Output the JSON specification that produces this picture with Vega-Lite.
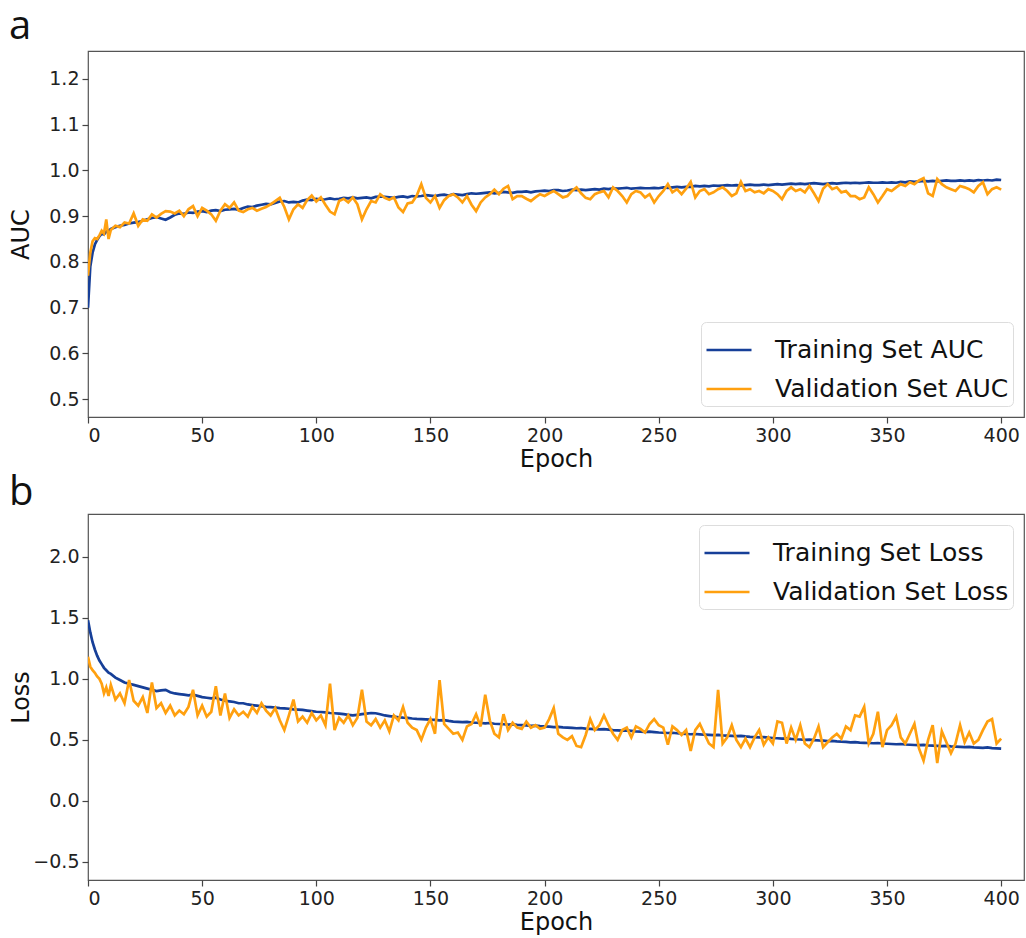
{
  "$schema": "https://vega.github.io/schema/vega-lite/v6.json",
  "padding": {"left": 8, "top": 6, "right": 0, "bottom": 0},
  "background": "white",
  "config": {
    "font": "DejaVu Sans",
    "view": {"stroke": "#555555", "strokeWidth": 1.2},
    "axis": {
      "domain": false, "grid": false, "tickColor": "#444444", "tickSize": 6, "tickWidth": 1.2,
      "labelFontSize": 19, "labelColor": "#222222", "labelPadding": 3,
      "titleFontSize": 24, "titleFontWeight": "normal", "titleColor": "#111111"
    },
    "legend": {
      "labelFontSize": 25, "labelColor": "#111111", "labelLimit": 500, "symbolType": "stroke", "symbolSize": 2025,
      "symbolStrokeWidth": 2.5, "strokeColor": "#dddddd", "fillColor": "white", "cornerRadius": 5,
      "padding": 4, "labelOffset": 22, "rowPadding": 2, "title": null, "offset": 11
    },
    "title": {"font": "Open Sans", "fontSize": 40, "fontWeight": "normal", "anchor": "start", "frame": "bounds", "color": "#111111"}
  },
  "datasets": {
    "d": [
      {"e":0,"ta":0.700,"va":0.770,"tl":1.48,"vl":1.18},
      {"e":1,"ta":0.790,"va":0.820,"tl":1.38,"vl":1.10},
      {"e":2,"ta":0.820,"va":0.845,"tl":1.30,"vl":1.07},
      {"e":3,"ta":0.838,"va":0.852,"tl":1.24,"vl":1.05},
      {"e":4,"ta":0.848,"va":0.850,"tl":1.19,"vl":1.02},
      {"e":5,"ta":0.856,"va":0.858,"tl":1.15,"vl":1.00},
      {"e":6,"ta":0.862,"va":0.868,"tl":1.12,"vl":0.96},
      {"e":7,"ta":0.860,"va":0.862,"tl":1.09,"vl":0.88},
      {"e":8,"ta":0.866,"va":0.893,"tl":1.07,"vl":0.93},
      {"e":9,"ta":0.868,"va":0.850,"tl":1.05,"vl":0.86},
      {"e":10,"ta":0.872,"va":0.870,"tl":1.04,"vl":0.95},
      {"e":12,"ta":0.876,"va":0.879,"tl":1.01,"vl":0.83},
      {"e":14,"ta":0.879,"va":0.876,"tl":0.99,"vl":0.88},
      {"e":16,"ta":0.881,"va":0.886,"tl":0.97,"vl":0.80},
      {"e":18,"ta":0.884,"va":0.884,"tl":0.96,"vl":0.99},
      {"e":20,"ta":0.886,"va":0.906,"tl":0.95,"vl":0.82},
      {"e":22,"ta":0.887,"va":0.879,"tl":0.94,"vl":0.78},
      {"e":24,"ta":0.890,"va":0.893,"tl":0.93,"vl":0.85},
      {"e":26,"ta":0.893,"va":0.890,"tl":0.92,"vl":0.72},
      {"e":28,"ta":0.896,"va":0.904,"tl":0.91,"vl":0.97},
      {"e":30,"ta":0.898,"va":0.897,"tl":0.90,"vl":0.76},
      {"e":32,"ta":0.895,"va":0.905,"tl":0.905,"vl":0.80},
      {"e":34,"ta":0.892,"va":0.911,"tl":0.91,"vl":0.72},
      {"e":36,"ta":0.897,"va":0.910,"tl":0.89,"vl":0.78},
      {"e":38,"ta":0.903,"va":0.906,"tl":0.88,"vl":0.70},
      {"e":40,"ta":0.906,"va":0.912,"tl":0.875,"vl":0.74},
      {"e":42,"ta":0.905,"va":0.900,"tl":0.87,"vl":0.71},
      {"e":44,"ta":0.908,"va":0.915,"tl":0.865,"vl":0.77},
      {"e":46,"ta":0.907,"va":0.922,"tl":0.87,"vl":0.91},
      {"e":48,"ta":0.910,"va":0.900,"tl":0.86,"vl":0.70},
      {"e":50,"ta":0.911,"va":0.918,"tl":0.85,"vl":0.78},
      {"e":52,"ta":0.909,"va":0.912,"tl":0.845,"vl":0.69},
      {"e":54,"ta":0.912,"va":0.904,"tl":0.84,"vl":0.73},
      {"e":56,"ta":0.913,"va":0.890,"tl":0.845,"vl":0.94},
      {"e":58,"ta":0.911,"va":0.912,"tl":0.83,"vl":0.70},
      {"e":60,"ta":0.914,"va":0.926,"tl":0.82,"vl":0.88},
      {"e":62,"ta":0.915,"va":0.918,"tl":0.815,"vl":0.68},
      {"e":64,"ta":0.916,"va":0.930,"tl":0.81,"vl":0.75},
      {"e":66,"ta":0.914,"va":0.912,"tl":0.80,"vl":0.70},
      {"e":68,"ta":0.918,"va":0.909,"tl":0.80,"vl":0.73},
      {"e":70,"ta":0.921,"va":0.915,"tl":0.79,"vl":0.69},
      {"e":72,"ta":0.920,"va":0.918,"tl":0.785,"vl":0.77},
      {"e":74,"ta":0.923,"va":0.912,"tl":0.78,"vl":0.72},
      {"e":76,"ta":0.925,"va":0.916,"tl":0.775,"vl":0.80},
      {"e":78,"ta":0.927,"va":0.920,"tl":0.77,"vl":0.74},
      {"e":80,"ta":0.926,"va":0.926,"tl":0.768,"vl":0.70},
      {"e":82,"ta":0.929,"va":0.933,"tl":0.765,"vl":0.76},
      {"e":84,"ta":0.932,"va":0.940,"tl":0.76,"vl":0.66},
      {"e":86,"ta":0.933,"va":0.920,"tl":0.758,"vl":0.58},
      {"e":88,"ta":0.930,"va":0.893,"tl":0.755,"vl":0.70},
      {"e":90,"ta":0.931,"va":0.915,"tl":0.75,"vl":0.83},
      {"e":92,"ta":0.930,"va":0.926,"tl":0.748,"vl":0.65},
      {"e":94,"ta":0.934,"va":0.918,"tl":0.745,"vl":0.69},
      {"e":96,"ta":0.936,"va":0.935,"tl":0.74,"vl":0.64},
      {"e":98,"ta":0.935,"va":0.945,"tl":0.735,"vl":0.72},
      {"e":100,"ta":0.938,"va":0.932,"tl":0.73,"vl":0.66},
      {"e":102,"ta":0.936,"va":0.941,"tl":0.728,"vl":0.70},
      {"e":104,"ta":0.937,"va":0.925,"tl":0.725,"vl":0.62},
      {"e":106,"ta":0.939,"va":0.910,"tl":0.72,"vl":0.96},
      {"e":108,"ta":0.937,"va":0.904,"tl":0.718,"vl":0.58},
      {"e":110,"ta":0.938,"va":0.933,"tl":0.715,"vl":0.68},
      {"e":112,"ta":0.940,"va":0.938,"tl":0.71,"vl":0.64},
      {"e":114,"ta":0.939,"va":0.930,"tl":0.705,"vl":0.70},
      {"e":116,"ta":0.941,"va":0.941,"tl":0.70,"vl":0.62},
      {"e":118,"ta":0.939,"va":0.926,"tl":0.705,"vl":0.68},
      {"e":120,"ta":0.940,"va":0.893,"tl":0.71,"vl":0.91},
      {"e":122,"ta":0.941,"va":0.915,"tl":0.715,"vl":0.65},
      {"e":124,"ta":0.939,"va":0.933,"tl":0.72,"vl":0.62},
      {"e":126,"ta":0.942,"va":0.930,"tl":0.718,"vl":0.67},
      {"e":128,"ta":0.943,"va":0.948,"tl":0.71,"vl":0.60},
      {"e":130,"ta":0.942,"va":0.940,"tl":0.70,"vl":0.66},
      {"e":132,"ta":0.941,"va":0.936,"tl":0.695,"vl":0.57},
      {"e":134,"ta":0.940,"va":0.941,"tl":0.69,"vl":0.70},
      {"e":136,"ta":0.942,"va":0.919,"tl":0.685,"vl":0.66},
      {"e":138,"ta":0.943,"va":0.909,"tl":0.682,"vl":0.77},
      {"e":140,"ta":0.941,"va":0.928,"tl":0.68,"vl":0.64},
      {"e":142,"ta":0.944,"va":0.930,"tl":0.675,"vl":0.60},
      {"e":144,"ta":0.943,"va":0.945,"tl":0.672,"vl":0.58},
      {"e":146,"ta":0.944,"va":0.970,"tl":0.67,"vl":0.50},
      {"e":148,"ta":0.946,"va":0.940,"tl":0.668,"vl":0.60},
      {"e":150,"ta":0.945,"va":0.930,"tl":0.665,"vl":0.67},
      {"e":152,"ta":0.944,"va":0.944,"tl":0.663,"vl":0.55},
      {"e":154,"ta":0.946,"va":0.918,"tl":0.66,"vl":0.99},
      {"e":156,"ta":0.947,"va":0.935,"tl":0.662,"vl":0.63},
      {"e":158,"ta":0.945,"va":0.944,"tl":0.655,"vl":0.59},
      {"e":160,"ta":0.948,"va":0.948,"tl":0.65,"vl":0.55},
      {"e":162,"ta":0.947,"va":0.941,"tl":0.648,"vl":0.56},
      {"e":164,"ta":0.946,"va":0.930,"tl":0.645,"vl":0.50},
      {"e":166,"ta":0.948,"va":0.944,"tl":0.647,"vl":0.61},
      {"e":168,"ta":0.950,"va":0.925,"tl":0.642,"vl":0.63},
      {"e":170,"ta":0.949,"va":0.911,"tl":0.64,"vl":0.71},
      {"e":172,"ta":0.950,"va":0.930,"tl":0.638,"vl":0.61},
      {"e":174,"ta":0.951,"va":0.941,"tl":0.635,"vl":0.87},
      {"e":176,"ta":0.952,"va":0.948,"tl":0.638,"vl":0.66},
      {"e":178,"ta":0.950,"va":0.958,"tl":0.632,"vl":0.55},
      {"e":180,"ta":0.951,"va":0.948,"tl":0.63,"vl":0.52},
      {"e":182,"ta":0.953,"va":0.960,"tl":0.628,"vl":0.71},
      {"e":184,"ta":0.952,"va":0.966,"tl":0.625,"vl":0.58},
      {"e":186,"ta":0.951,"va":0.937,"tl":0.627,"vl":0.64},
      {"e":188,"ta":0.953,"va":0.944,"tl":0.622,"vl":0.60},
      {"e":190,"ta":0.953,"va":0.944,"tl":0.62,"vl":0.59},
      {"e":192,"ta":0.954,"va":0.938,"tl":0.618,"vl":0.65},
      {"e":194,"ta":0.952,"va":0.933,"tl":0.615,"vl":0.60},
      {"e":196,"ta":0.954,"va":0.941,"tl":0.617,"vl":0.62},
      {"e":198,"ta":0.955,"va":0.948,"tl":0.613,"vl":0.59},
      {"e":200,"ta":0.956,"va":0.944,"tl":0.61,"vl":0.60},
      {"e":202,"ta":0.955,"va":0.950,"tl":0.608,"vl":0.67},
      {"e":204,"ta":0.957,"va":0.955,"tl":0.605,"vl":0.76},
      {"e":206,"ta":0.957,"va":0.948,"tl":0.607,"vl":0.55},
      {"e":208,"ta":0.955,"va":0.941,"tl":0.602,"vl":0.52},
      {"e":210,"ta":0.956,"va":0.944,"tl":0.60,"vl":0.50},
      {"e":212,"ta":0.958,"va":0.955,"tl":0.598,"vl":0.53},
      {"e":214,"ta":0.957,"va":0.963,"tl":0.595,"vl":0.45},
      {"e":216,"ta":0.958,"va":0.950,"tl":0.597,"vl":0.44},
      {"e":218,"ta":0.957,"va":0.940,"tl":0.592,"vl":0.54},
      {"e":220,"ta":0.958,"va":0.937,"tl":0.59,"vl":0.67},
      {"e":222,"ta":0.959,"va":0.948,"tl":0.588,"vl":0.58},
      {"e":224,"ta":0.958,"va":0.952,"tl":0.586,"vl":0.62},
      {"e":226,"ta":0.960,"va":0.955,"tl":0.588,"vl":0.70},
      {"e":228,"ta":0.959,"va":0.941,"tl":0.584,"vl":0.62},
      {"e":230,"ta":0.961,"va":0.963,"tl":0.58,"vl":0.55},
      {"e":232,"ta":0.960,"va":0.955,"tl":0.578,"vl":0.50},
      {"e":234,"ta":0.961,"va":0.944,"tl":0.576,"vl":0.58},
      {"e":236,"ta":0.962,"va":0.930,"tl":0.578,"vl":0.60},
      {"e":238,"ta":0.960,"va":0.948,"tl":0.574,"vl":0.52},
      {"e":240,"ta":0.961,"va":0.955,"tl":0.57,"vl":0.61},
      {"e":242,"ta":0.962,"va":0.952,"tl":0.568,"vl":0.59},
      {"e":244,"ta":0.961,"va":0.941,"tl":0.566,"vl":0.56},
      {"e":246,"ta":0.961,"va":0.948,"tl":0.568,"vl":0.63},
      {"e":248,"ta":0.962,"va":0.930,"tl":0.564,"vl":0.67},
      {"e":250,"ta":0.961,"va":0.944,"tl":0.56,"vl":0.62},
      {"e":252,"ta":0.963,"va":0.955,"tl":0.558,"vl":0.60},
      {"e":254,"ta":0.962,"va":0.970,"tl":0.556,"vl":0.46},
      {"e":256,"ta":0.963,"va":0.952,"tl":0.558,"vl":0.61},
      {"e":258,"ta":0.964,"va":0.959,"tl":0.554,"vl":0.58},
      {"e":260,"ta":0.963,"va":0.948,"tl":0.55,"vl":0.54},
      {"e":262,"ta":0.964,"va":0.960,"tl":0.548,"vl":0.58},
      {"e":264,"ta":0.964,"va":0.975,"tl":0.546,"vl":0.41},
      {"e":266,"ta":0.966,"va":0.941,"tl":0.548,"vl":0.58},
      {"e":268,"ta":0.965,"va":0.955,"tl":0.545,"vl":0.63},
      {"e":270,"ta":0.966,"va":0.959,"tl":0.542,"vl":0.55},
      {"e":272,"ta":0.965,"va":0.948,"tl":0.54,"vl":0.47},
      {"e":274,"ta":0.967,"va":0.952,"tl":0.538,"vl":0.44},
      {"e":276,"ta":0.966,"va":0.959,"tl":0.54,"vl":0.91},
      {"e":278,"ta":0.967,"va":0.963,"tl":0.536,"vl":0.47},
      {"e":280,"ta":0.968,"va":0.955,"tl":0.534,"vl":0.52},
      {"e":282,"ta":0.967,"va":0.944,"tl":0.532,"vl":0.62},
      {"e":284,"ta":0.968,"va":0.950,"tl":0.53,"vl":0.50},
      {"e":286,"ta":0.967,"va":0.975,"tl":0.532,"vl":0.44},
      {"e":288,"ta":0.968,"va":0.955,"tl":0.528,"vl":0.51},
      {"e":290,"ta":0.969,"va":0.959,"tl":0.525,"vl":0.44},
      {"e":292,"ta":0.968,"va":0.952,"tl":0.523,"vl":0.52},
      {"e":294,"ta":0.968,"va":0.955,"tl":0.52,"vl":0.58},
      {"e":296,"ta":0.969,"va":0.950,"tl":0.522,"vl":0.46},
      {"e":298,"ta":0.968,"va":0.959,"tl":0.518,"vl":0.52},
      {"e":300,"ta":0.969,"va":0.955,"tl":0.515,"vl":0.47},
      {"e":302,"ta":0.970,"va":0.948,"tl":0.513,"vl":0.65},
      {"e":304,"ta":0.969,"va":0.937,"tl":0.51,"vl":0.64},
      {"e":306,"ta":0.970,"va":0.955,"tl":0.512,"vl":0.47},
      {"e":308,"ta":0.971,"va":0.963,"tl":0.508,"vl":0.60},
      {"e":310,"ta":0.970,"va":0.955,"tl":0.505,"vl":0.50},
      {"e":312,"ta":0.971,"va":0.959,"tl":0.503,"vl":0.62},
      {"e":314,"ta":0.970,"va":0.952,"tl":0.50,"vl":0.47},
      {"e":316,"ta":0.971,"va":0.966,"tl":0.502,"vl":0.44},
      {"e":318,"ta":0.972,"va":0.950,"tl":0.498,"vl":0.51},
      {"e":320,"ta":0.971,"va":0.933,"tl":0.495,"vl":0.61},
      {"e":322,"ta":0.970,"va":0.960,"tl":0.493,"vl":0.44},
      {"e":324,"ta":0.971,"va":0.970,"tl":0.49,"vl":0.48},
      {"e":326,"ta":0.972,"va":0.959,"tl":0.492,"vl":0.52},
      {"e":328,"ta":0.971,"va":0.963,"tl":0.488,"vl":0.55},
      {"e":330,"ta":0.972,"va":0.952,"tl":0.485,"vl":0.51},
      {"e":332,"ta":0.973,"va":0.955,"tl":0.483,"vl":0.61},
      {"e":334,"ta":0.972,"va":0.944,"tl":0.48,"vl":0.58},
      {"e":336,"ta":0.973,"va":0.944,"tl":0.482,"vl":0.70},
      {"e":338,"ta":0.972,"va":0.937,"tl":0.478,"vl":0.69},
      {"e":340,"ta":0.973,"va":0.941,"tl":0.476,"vl":0.77},
      {"e":342,"ta":0.974,"va":0.963,"tl":0.474,"vl":0.47},
      {"e":344,"ta":0.973,"va":0.948,"tl":0.472,"vl":0.55},
      {"e":346,"ta":0.973,"va":0.930,"tl":0.474,"vl":0.73},
      {"e":348,"ta":0.974,"va":0.944,"tl":0.47,"vl":0.44},
      {"e":350,"ta":0.973,"va":0.959,"tl":0.468,"vl":0.58},
      {"e":352,"ta":0.974,"va":0.955,"tl":0.466,"vl":0.62},
      {"e":354,"ta":0.973,"va":0.963,"tl":0.464,"vl":0.69},
      {"e":356,"ta":0.975,"va":0.970,"tl":0.466,"vl":0.52},
      {"e":358,"ta":0.974,"va":0.966,"tl":0.462,"vl":0.47},
      {"e":360,"ta":0.976,"va":0.974,"tl":0.46,"vl":0.55},
      {"e":362,"ta":0.975,"va":0.970,"tl":0.458,"vl":0.63},
      {"e":364,"ta":0.976,"va":0.978,"tl":0.456,"vl":0.43},
      {"e":366,"ta":0.977,"va":0.983,"tl":0.458,"vl":0.33},
      {"e":368,"ta":0.976,"va":0.950,"tl":0.454,"vl":0.50},
      {"e":370,"ta":0.977,"va":0.944,"tl":0.452,"vl":0.62},
      {"e":372,"ta":0.976,"va":0.981,"tl":0.45,"vl":0.31},
      {"e":374,"ta":0.977,"va":0.970,"tl":0.448,"vl":0.57},
      {"e":376,"ta":0.978,"va":0.963,"tl":0.45,"vl":0.48},
      {"e":378,"ta":0.977,"va":0.959,"tl":0.446,"vl":0.39},
      {"e":380,"ta":0.977,"va":0.955,"tl":0.444,"vl":0.47},
      {"e":382,"ta":0.978,"va":0.966,"tl":0.442,"vl":0.62},
      {"e":384,"ta":0.977,"va":0.963,"tl":0.44,"vl":0.48},
      {"e":386,"ta":0.978,"va":0.959,"tl":0.442,"vl":0.56},
      {"e":388,"ta":0.977,"va":0.952,"tl":0.438,"vl":0.47},
      {"e":390,"ta":0.979,"va":0.966,"tl":0.436,"vl":0.50},
      {"e":392,"ta":0.978,"va":0.974,"tl":0.434,"vl":0.58},
      {"e":394,"ta":0.979,"va":0.948,"tl":0.438,"vl":0.65},
      {"e":396,"ta":0.978,"va":0.959,"tl":0.432,"vl":0.67},
      {"e":398,"ta":0.980,"va":0.963,"tl":0.43,"vl":0.47},
      {"e":400,"ta":0.979,"va":0.958,"tl":0.428,"vl":0.51}
    ]
  },
  "vconcat": [
    {
      "title": {"text": "a", "offset": 4},
      "width": 936,
      "height": 366,
      "data": {"name": "d"},
      "transform": [{"fold": ["ta", "va"], "as": ["k", "v"]}],
      "mark": {"type": "line", "strokeWidth": 2.7, "clip": true},
      "encoding": {
        "x": {"field": "e", "type": "quantitative", "scale": {"domain": [0, 410], "nice": false, "zero": false},
              "axis": {"values": [0, 50, 100, 150, 200, 250, 300, 350, 400], "title": "Epoch", "titlePadding": 2}},
        "y": {"field": "v", "type": "quantitative", "scale": {"domain": [0.461, 1.261], "nice": false, "zero": false},
              "axis": {"values": [0.5, 0.6, 0.7, 0.8, 0.9, 1.0, 1.1, 1.2], "format": ".1f", "title": "AUC", "titleX": -55}},
        "color": {"field": "k", "type": "nominal",
                  "scale": {"domain": ["ta", "va"], "range": ["#163f98", "#ffa00f"]},
                  "legend": {"orient": "bottom-right", "labelExpr": "datum.label == 'ta' ? 'Training Set AUC' : 'Validation Set AUC'"}}
      }
    },
    {
      "title": {"text": "b", "offset": 1},
      "width": 936,
      "height": 366,
      "data": {"name": "d"},
      "transform": [{"fold": ["tl", "vl"], "as": ["k", "v"]}],
      "mark": {"type": "line", "strokeWidth": 2.7, "clip": true},
      "encoding": {
        "x": {"field": "e", "type": "quantitative", "scale": {"domain": [0, 410], "nice": false, "zero": false},
              "axis": {"values": [0, 50, 100, 150, 200, 250, 300, 350, 400], "title": "Epoch", "titlePadding": 2}},
        "y": {"field": "v", "type": "quantitative", "scale": {"domain": [-0.648, 2.35], "nice": false, "zero": false},
              "axis": {"values": [-0.5, 0.0, 0.5, 1.0, 1.5, 2.0], "format": ".1f", "title": "Loss", "titleX": -55}},
        "color": {"field": "k", "type": "nominal",
                  "scale": {"domain": ["tl", "vl"], "range": ["#163f98", "#ffa00f"]},
                  "legend": {"orient": "top-right", "labelExpr": "datum.label == 'tl' ? 'Training Set Loss' : 'Validation Set Loss'"}}
      }
    }
  ],
  "spacing": 0,
  "resolve": {"scale": {"color": "independent", "x": "independent", "y": "independent"}, "legend": {"color": "independent"}}
}
